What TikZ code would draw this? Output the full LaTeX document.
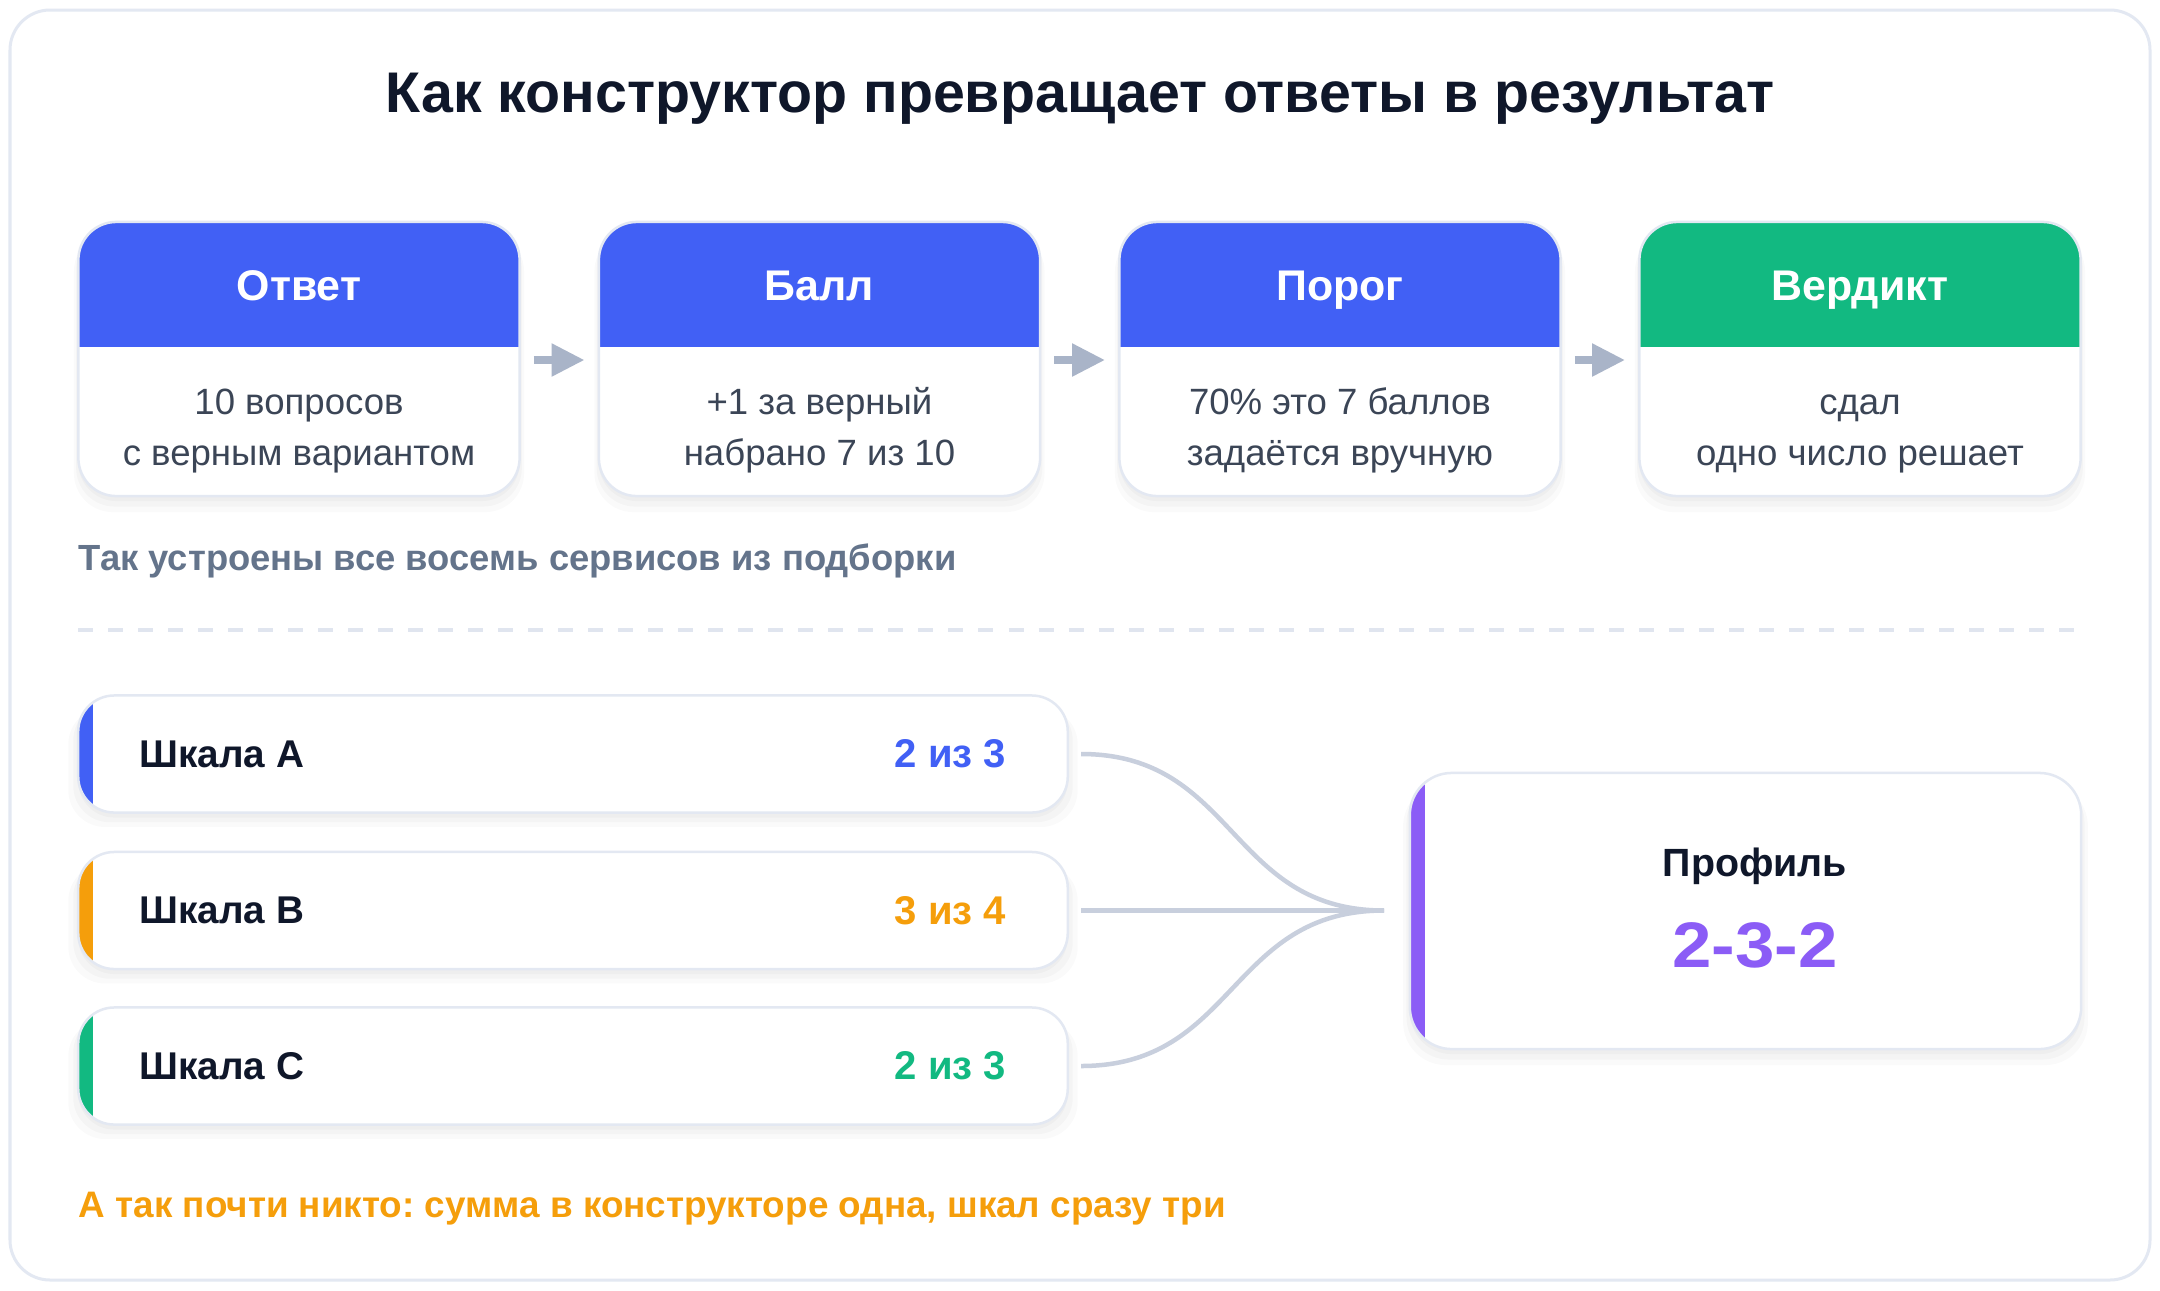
\documentclass[tikz,border=0pt]{standalone}
\usepackage{fontspec}
\setmainfont{Liberation Sans}
\usetikzlibrary{arrows.meta,shadows}
\frenchspacing
\definecolor{hblue}{HTML}{4160F5}
\definecolor{hgreen}{HTML}{12B981}
\definecolor{horange}{HTML}{F59E0B}
\definecolor{hpurple}{HTML}{8B5CF6}
\definecolor{darktext}{HTML}{0F172A}
\definecolor{bodytext}{HTML}{3B4556}
\definecolor{slatetext}{HTML}{64748B}
\definecolor{arrowgray}{HTML}{A9B4C8}
\definecolor{conngray}{HTML}{C8CFDD}
\definecolor{dashgray}{HTML}{E0E5EF}
\definecolor{bordercol}{HTML}{E3E8F2}
\begin{document}
\frenchspacing
\begin{tikzpicture}[x=0.01cm,y=-0.01cm,
  softshadow/.style={
    general shadow={shadow xshift=0cm, shadow yshift=-0.13cm, shadow scale=1.02, fill=black, opacity=0.018},
    general shadow={shadow xshift=0cm, shadow yshift=-0.09cm, shadow scale=1.01, fill=black, opacity=0.022},
    general shadow={shadow xshift=0cm, shadow yshift=-0.05cm, fill=black, opacity=0.025}},
  card/.style={draw=bordercol, line width=0.025cm, rounded corners=0.38cm, fill=white,
    minimum width=4.41cm, minimum height=2.74cm, inner sep=0pt, softshadow,
    path picture={\fill[#1, sharp corners] (path picture bounding box.north west) rectangle ([yshift=-1.25cm]path picture bounding box.north east);}},
  sbox/.style={draw=bordercol, line width=0.025cm, rounded corners=0.36cm, fill=white,
    minimum width=9.89cm, minimum height=1.17cm, inner sep=0pt, softshadow,
    path picture={\fill[#1, sharp corners] (path picture bounding box.south west) rectangle ([xshift=0.15cm]path picture bounding box.north west);}},
  pbox/.style={draw=bordercol, line width=0.025cm, rounded corners=0.42cm, fill=white,
    minimum width=6.71cm, minimum height=2.76cm, inner sep=0pt, softshadow,
    path picture={\fill[#1, sharp corners] (path picture bounding box.south west) rectangle ([xshift=0.15cm]path picture bounding box.north west);}},
  titletext/.style={font=\fontsize{16.3}{19}\selectfont\bfseries, text=darktext, inner sep=0pt},
  htext/.style={font=\fontsize{12.2}{14}\selectfont\bfseries, text=white, inner sep=0pt, text height=0.3cm, text depth=0.09cm},
  btext/.style={font=\fontsize{10.4}{14.5}\selectfont, text=bodytext, align=center, inner sep=0pt, text height=0.8cm, text depth=0.1cm},
  notetext/.style={font=\fontsize{10.35}{12}\selectfont\bfseries, inner sep=0pt, anchor=west},
  slabel/.style={font=\fontsize{11}{13}\selectfont\bfseries, text=darktext, inner sep=0pt, anchor=west},
  sval/.style={font=\fontsize{11.4}{13}\selectfont\bfseries, inner sep=0pt, anchor=east},
  flow/.style={draw=arrowgray, line width=0.08cm, -{Triangle[length=0.33cm, width=0.31cm]}},
  conn/.style={draw=conngray, line width=0.045cm},
  sepline/.style={draw=dashgray, line width=0.04cm, dash pattern=on 0.15cm off 0.15cm}
]
\useasboundingbox (0,0) rectangle (2160,1290);
\fill[white] (0,0) rectangle (2160,1290);
\draw[draw=bordercol, line width=0.03cm, rounded corners=0.4cm, fill=white] (10,10) rectangle (2150,1280);

% title
\node[titletext] (title) at (1080,99) {Как конструктор превращает ответы в результат};

% top cards
\node[card=hblue] (c1) at (299,359) {};
\node[card=hblue] (c2) at (819.5,359) {};
\node[card=hblue] (c3) at (1340,359) {};
\node[card=hgreen] (c4) at (1860,359) {};

\node[htext] (c1t) at (299,290) {Ответ};
\node[htext] (c2t) at (819.5,290) {Балл};
\node[htext] (c3t) at (1340,290) {Порог};
\node[htext] (c4t) at (1860,290) {Вердикт};

\node[btext] (c1b) at (299,430.5) {10 вопросов\\с верным вариантом};
\node[btext] (c2b) at (819.5,430.5) {+1 за верный\\набрано 7 из 10};
\node[btext] (c3b) at (1340,430.5) {70\% это 7 баллов\\задаётся вручную};
\node[btext] (c4b) at (1860,430.5) {сдал\\одно число решает};

\draw[flow] ([xshift=0.13cm,yshift=-0.01cm]c1.east) -- ([xshift=-0.13cm,yshift=-0.01cm]c2.west);
\draw[flow] ([xshift=0.13cm,yshift=-0.01cm]c2.east) -- ([xshift=-0.13cm,yshift=-0.01cm]c3.west);
\draw[flow] ([xshift=0.13cm,yshift=-0.01cm]c3.east) -- ([xshift=-0.13cm,yshift=-0.01cm]c4.west);

\node[notetext, text=slatetext] (note1) at (78,561) {Так устроены все восемь сервисов из подборки};

% separator
\draw[sepline] (78,630) -- (2078,630);

% scales
\node[sbox=hblue] (sa) at (573,754) {};
\node[sbox=horange] (sb) at (573,910.5) {};
\node[sbox=hgreen] (sc) at (573,1066) {};

\node[slabel] (sal) at (139,754) {Шкала A};
\node[slabel] (sbl) at (139,910.5) {Шкала B};
\node[slabel] (scl) at (139,1066) {Шкала C};

\node[sval, text=hblue] (sav) at (1007,754) {2 из 3};
\node[sval, text=horange] (sbv) at (1007,910.5) {3 из 4};
\node[sval, text=hgreen] (scv) at (1007,1066) {2 из 3};

% profile
\node[pbox=hpurple] (prof) at (1745.5,911) {};
\node[font=\fontsize{11.2}{13}\selectfont\bfseries, text=darktext, inner sep=0pt] (proft) at (1755,866) {Профиль};
\node[font=\fontsize{18.3}{21}\selectfont\bfseries, text=hpurple, inner sep=0pt] (profv) at (1755,945) {\scalebox{1.1}[1]{2-3-2}};

% connectors
\coordinate (hub) at (1384,910.5);
\draw[conn] ([xshift=0.12cm]sa.east) .. controls +(1.55cm,0) and +(-1.55cm,0) .. (hub);
\draw[conn] ([xshift=0.12cm]sb.east) -- (hub);
\draw[conn] ([xshift=0.12cm]sc.east) .. controls +(1.55cm,0) and +(-1.55cm,0) .. (hub);

\node[notetext, text=horange, font=\fontsize{10.48}{12}\selectfont\bfseries] (note2) at (78,1209) {А так почти никто: сумма в конструкторе одна, шкал сразу три};
\end{tikzpicture}
\end{document}
